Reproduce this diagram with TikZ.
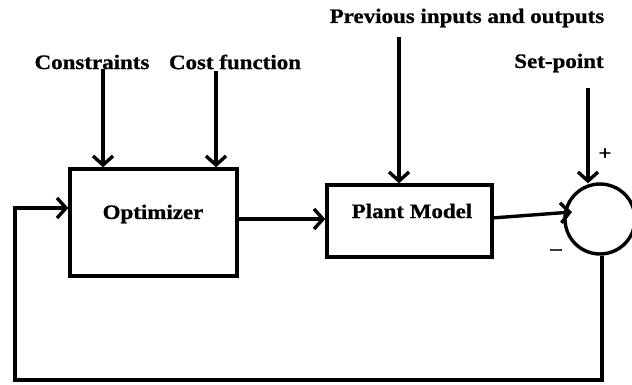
\documentclass[tikz,border=0pt]{standalone}
\usepackage{fontspec}
\setmainfont{Liberation Serif}[FakeStretch=1.12,FakeBold=0.8]
\usetikzlibrary{arrows.meta}
\begin{document}
\begin{tikzpicture}[x=1pt,y=-1pt,
  lbl/.style={inner sep=0pt, font=\fontsize{20.5}{24}\selectfont\bfseries},
  box/.style={draw, line width=3.4pt, inner sep=0pt},
  arr/.style={line width=3.4pt, -{Straight Barb[length=9pt,width=20pt,line width=3.4pt]}},
  sign/.style={inner sep=0pt, font=\fontsize{20}{22}\selectfont\bfseries}]
\useasboundingbox (0,0) rectangle (632,385);
% blocks
\node[box, minimum width=167pt, minimum height=107pt] (opt) at (153.5,222.5) {};
\node[lbl] (optlbl) at (153,214) {Optimizer};
\node[box, minimum width=165pt, minimum height=72pt] (plant) at (409.5,221) {};
\node[lbl] (plantlbl) at (412,211) {Plant Model};
\node[draw, circle, line width=3.4pt, minimum size=70pt, inner sep=0pt] (sum) at (600,219) {};
% input labels
\node[lbl] (cons) at (92,62) {Constraints};
\node[lbl] (cost) at (235,62) {Cost function};
\node[lbl] (prev) at (467,18) {Previous inputs and outputs};
\node[lbl] (sp) at (559,63) {Set-point};
\node[sign] (plus) at (605,154) {+};
\node[sign] (minus) at (556,252) {\textendash};
% connector start points
\coordinate (c1) at (103,69);
\coordinate (c2) at (216,71);
\coordinate (c3) at (399,37);
\coordinate (c4) at (588,88);
\coordinate (pout) at (492,218);
\coordinate (pin) at (572,212);
\coordinate (fb) at (15,380);
% connectors
\draw[arr] (c1) -- (c1 |- opt.north);
\draw[arr] (c2) -- (c2 |- opt.north);
\draw[arr] (c3) -- (c3 |- plant.north);
\draw[arr] (c4) -- ([yshift=-1pt]c4 |- sum.north);
\draw[arr] (opt.east |- 0,219) -- (plant.west |- 0,219);
\draw[arr] (pout) -- (pin);
\draw[arr] ([xshift=2pt]sum.south) |- (fb) |- (opt.west |- 0,208);
\end{tikzpicture}
\end{document}
